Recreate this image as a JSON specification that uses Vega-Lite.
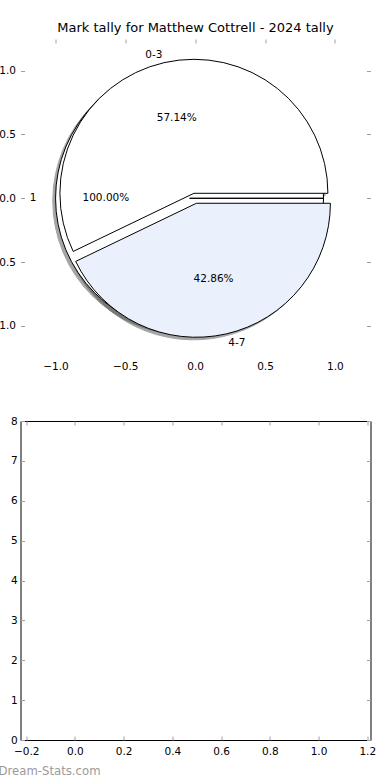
{
  "$schema": "https://vega.github.io/schema/vega-lite/v6.json",
  "padding": {"left": -10.5, "top": 21, "right": 0, "bottom": 0},
  "background": "white",
  "config": {
    "font": "DejaVu Sans",
    "view": {"stroke": null},
    "axis": {"labelFont": "DejaVu Sans", "labelFontSize": 10.5, "labelColor": "#000", "tickColor": "#a0a0a0", "tickWidth": 1, "grid": false, "domain": false},
    "title": {"font": "DejaVu Sans", "fontWeight": "normal", "color": "#000"},
    "text": {"font": "DejaVu Sans", "fontSize": 10.5, "color": "#000", "baseline": "middle"}
  },
  "datasets": {
    "pie1": [{"label": "1", "value": 1, "pct": "100.00%"}],
    "pie2": [
      {"label": "0-3", "value": 4, "pct": "57.14%"},
      {"label": "4-7", "value": 3, "pct": "42.86%"}
    ],
    "empty": []
  },
  "spacing": 64,
  "bounds": "flush",
  "vconcat": [
    {
      "width": 350,
      "height": 318,
      "view": {"stroke": null},
      "title": {"text": "Mark tally for Matthew Cottrell - 2024 tally", "fontSize": 13, "fontWeight": "normal", "offset": 4},
      "resolve": {"scale": {"theta": "independent"}, "axis": {"x": "independent", "y": "independent"}},
      "layer": [
        {
          "data": {"name": "pie1"},
          "mark": {"type": "arc", "radius": 134, "fill": "#4d4d4d", "stroke": "#4d4d4d", "strokeWidth": 1, "opacity": 0.5},
          "encoding": {
            "x": {"datum": -0.06, "type": "quantitative", "scale": {"domain": [-1.25, 1.255], "nice": false, "zero": false},
                  "axis": {"orient": "top", "values": [-1, -0.5, 0, 0.5, 1], "tickSize": -4, "labels": false, "title": null}},
            "y": {"datum": -0.02, "type": "quantitative", "scale": {"domain": [-1.243, 1.2475], "nice": false, "zero": false},
                  "axis": {"orient": "right", "values": [-1, -0.5, 0, 0.5, 1], "tickSize": -4, "labels": false, "title": null}},
            "theta": {"field": "value", "type": "quantitative", "stack": true, "scale": {"range": [1.5707963, -4.712389]}}
          }
        },
        {
          "data": {"name": "pie2"},
          "mark": {"type": "arc", "radius": 134, "fill": "#4d4d4d", "stroke": "#4d4d4d", "strokeWidth": 1},
          "encoding": {
            "x": {"datum": -0.0289, "type": "quantitative", "axis": null},
            "y": {"datum": 0.019, "type": "quantitative", "axis": null},
            "theta": {"field": "value", "type": "quantitative", "stack": true, "scale": {"range": [1.5707963, -4.712389]}},
            "order": {"field": "label", "type": "nominal", "sort": "ascending"},
            "opacity": {"condition": {"test": "datum.label === '0-3'", "value": 0.5}, "value": 0}
          }
        },
        {
          "data": {"name": "pie2"},
          "mark": {"type": "arc", "radius": 134, "fill": "#4d4d4d", "stroke": "#4d4d4d", "strokeWidth": 1},
          "encoding": {
            "x": {"datum": -0.0111, "type": "quantitative", "axis": null},
            "y": {"datum": -0.059, "type": "quantitative", "axis": null},
            "theta": {"field": "value", "type": "quantitative", "stack": true, "scale": {"range": [1.5707963, -4.712389]}},
            "order": {"field": "label", "type": "nominal", "sort": "ascending"},
            "opacity": {"condition": {"test": "datum.label === '4-7'", "value": 0.5}, "value": 0}
          }
        },
        {
          "data": {"name": "pie1"},
          "mark": {"type": "arc", "radius": 134, "fill": "#ffffff", "stroke": "#000000", "strokeWidth": 1},
          "encoding": {
            "x": {"datum": -0.04, "type": "quantitative",
                  "axis": {"orient": "bottom", "values": [-1, -0.5, 0, 0.5, 1], "format": ".1f", "ticks": false, "tickSize": 0, "labelPadding": 4, "title": null}},
            "y": {"datum": 0, "type": "quantitative",
                  "axis": {"orient": "left", "values": [-1, -0.5, 0, 0.5, 1], "format": ".1f", "tickSize": -4, "labelPadding": 9, "title": null}},
            "theta": {"field": "value", "type": "quantitative", "stack": true, "scale": {"range": [1.5707963, -4.712389]}}
          }
        },
        {
          "data": {"name": "pie2"},
          "mark": {"type": "arc", "radius": 134, "fill": "#ffffff", "stroke": "#000000", "strokeWidth": 1},
          "encoding": {
            "x": {"datum": -0.0089, "type": "quantitative", "axis": null},
            "y": {"datum": 0.039, "type": "quantitative", "axis": null},
            "theta": {"field": "value", "type": "quantitative", "stack": true, "scale": {"range": [1.5707963, -4.712389]}},
            "order": {"field": "label", "type": "nominal", "sort": "ascending"},
            "opacity": {"condition": {"test": "datum.label === '0-3'", "value": 1}, "value": 0}
          }
        },
        {
          "data": {"name": "pie2"},
          "mark": {"type": "arc", "radius": 134, "fill": "#ebf1fc", "stroke": "#000000", "strokeWidth": 1},
          "encoding": {
            "x": {"datum": 0.0089, "type": "quantitative", "axis": null},
            "y": {"datum": -0.039, "type": "quantitative", "axis": null},
            "theta": {"field": "value", "type": "quantitative", "stack": true, "scale": {"range": [1.5707963, -4.712389]}},
            "order": {"field": "label", "type": "nominal", "sort": "ascending"},
            "opacity": {"condition": {"test": "datum.label === '4-7'", "value": 1}, "value": 0}
          }
        },
        {
          "data": {"name": "pie1"},
          "mark": {"type": "text", "radius": 153, "align": "right"},
          "encoding": {
            "x": {"datum": -0.04, "type": "quantitative", "axis": null},
            "y": {"datum": 0, "type": "quantitative", "axis": null},
            "theta": {"field": "value", "type": "quantitative", "stack": true, "scale": {"range": [1.5707963, -4.712389]}},
            "text": {"field": "label"}
          }
        },
        {
          "data": {"name": "pie1"},
          "mark": {"type": "text", "radius": 83.7, "align": "center"},
          "encoding": {
            "x": {"datum": -0.04, "type": "quantitative", "axis": null},
            "y": {"datum": 0, "type": "quantitative", "axis": null},
            "theta": {"field": "value", "type": "quantitative", "stack": true, "scale": {"range": [1.5707963, -4.712389]}},
            "text": {"field": "pct"}
          }
        },
        {
          "data": {"name": "pie2"},
          "mark": {"type": "text", "radius": 141.5, "align": "right"},
          "encoding": {
            "x": {"datum": -0.0089, "type": "quantitative", "axis": null},
            "y": {"datum": 0.039, "type": "quantitative", "axis": null},
            "theta": {"field": "value", "type": "quantitative", "stack": true, "scale": {"range": [1.5707963, -4.712389]}},
            "order": {"field": "label", "type": "nominal", "sort": "ascending"},
            "text": {"field": "label"},
            "opacity": {"condition": {"test": "datum.label === '0-3'", "value": 1}, "value": 0}
          }
        },
        {
          "data": {"name": "pie2"},
          "mark": {"type": "text", "radius": 143, "align": "left"},
          "encoding": {
            "x": {"datum": 0.0089, "type": "quantitative", "axis": null},
            "y": {"datum": -0.039, "type": "quantitative", "axis": null},
            "theta": {"field": "value", "type": "quantitative", "stack": true, "scale": {"range": [1.5707963, -4.712389]}},
            "order": {"field": "label", "type": "nominal", "sort": "ascending"},
            "text": {"field": "label"},
            "opacity": {"condition": {"test": "datum.label === '4-7'", "value": 1}, "value": 0}
          }
        },
        {
          "data": {"name": "pie2"},
          "mark": {"type": "text", "radius": 77.2, "align": "center"},
          "encoding": {
            "x": {"datum": -0.0089, "type": "quantitative", "axis": null},
            "y": {"datum": 0.039, "type": "quantitative", "axis": null},
            "theta": {"field": "value", "type": "quantitative", "stack": true, "scale": {"range": [1.5707963, -4.712389]}},
            "order": {"field": "label", "type": "nominal", "sort": "ascending"},
            "text": {"field": "pct"},
            "opacity": {"condition": {"test": "datum.label === '0-3'", "value": 1}, "value": 0}
          }
        },
        {
          "data": {"name": "pie2"},
          "mark": {"type": "text", "radius": 77.2, "align": "center"},
          "encoding": {
            "x": {"datum": 0.0089, "type": "quantitative", "axis": null},
            "y": {"datum": -0.039, "type": "quantitative", "axis": null},
            "theta": {"field": "value", "type": "quantitative", "stack": true, "scale": {"range": [1.5707963, -4.712389]}},
            "order": {"field": "label", "type": "nominal", "sort": "ascending"},
            "text": {"field": "pct"},
            "opacity": {"condition": {"test": "datum.label === '4-7'", "value": 1}, "value": 0}
          }
        }
      ]
    },
    {
      "width": 350,
      "height": 319,
      "view": {"stroke": "#000000", "strokeWidth": 1},
      "title": {"text": "Dream-Stats.com", "orient": "bottom", "anchor": "start", "frame": "group", "dx": -22, "offset": 9, "fontSize": 11.7, "fontWeight": "normal", "color": "#9a9a9a"},
      "resolve": {"axis": {"x": "independent", "y": "independent"}},
      "layer": [
        {
          "data": {"name": "empty"},
          "mark": "point",
          "encoding": {
            "x": {"field": "x", "type": "quantitative", "scale": {"domain": [-0.2234, 1.2134], "nice": false, "zero": false},
                  "axis": {"orient": "bottom", "values": [-0.2, 0, 0.2, 0.4, 0.6, 0.8, 1, 1.2], "format": ".1f", "tickSize": -4, "labelPadding": 10.5, "title": null}},
            "y": {"field": "y", "type": "quantitative", "scale": {"domain": [0, 8], "nice": false, "zero": false},
                  "axis": {"orient": "left", "values": [0, 1, 2, 3, 4, 5, 6, 7, 8], "format": "d", "tickSize": -4, "labelPadding": 7.3, "title": null}}
          }
        },
        {
          "data": {"name": "empty"},
          "mark": "point",
          "encoding": {
            "x": {"field": "x", "type": "quantitative",
                  "axis": {"orient": "top", "values": [-0.2, 0, 0.2, 0.4, 0.6, 0.8, 1, 1.2], "tickSize": -4, "labels": false, "title": null}},
            "y": {"field": "y", "type": "quantitative",
                  "axis": {"orient": "right", "values": [0, 1, 2, 3, 4, 5, 6, 7, 8], "tickSize": -4, "labels": false, "title": null}}
          }
        }
      ]
    }
  ]
}
